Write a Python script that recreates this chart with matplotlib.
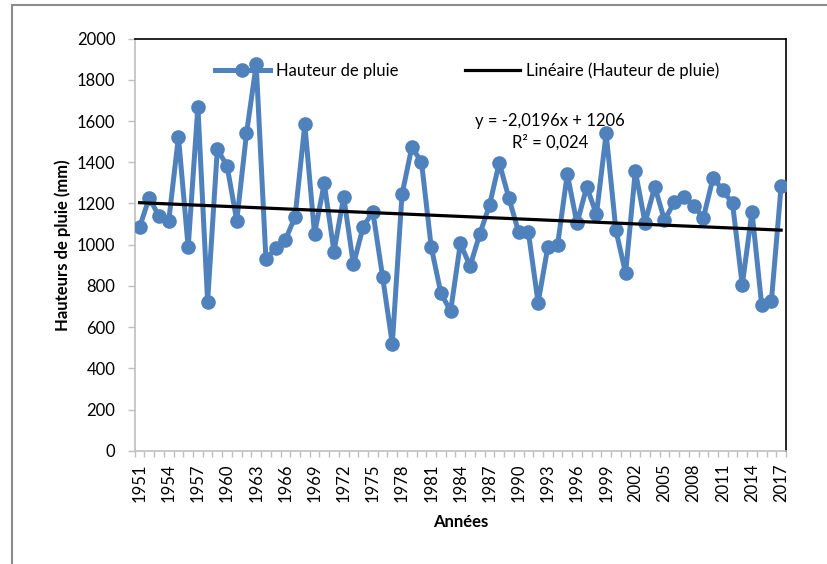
import matplotlib
matplotlib.use("Agg")
import matplotlib.pyplot as plt
from matplotlib.patches import Rectangle
import numpy as np

plt.rcParams['font.family'] = ['Lato', 'DejaVu Sans']

years = list(range(1951, 2018))
rain = [1085, 1228, 1138, 1115, 1524, 987, 1670, 723, 1463, 1383,
        1116, 1540, 1875, 930, 982, 1023, 1136, 1584, 1052, 1298,
        966, 1233, 904, 1087, 1160, 845, 518, 1244, 1472, 1403,
        990, 764, 678, 1006, 896, 1052, 1192, 1398, 1225, 1060,
        1060, 718, 990, 998, 1343, 1103, 1281, 1147, 1540, 1071,
        861, 1358, 1107, 1281, 1120, 1205, 1233, 1189, 1131, 1325,
        1265, 1200, 804, 1160, 707, 728, 1285]
slope = -2.0196
intercept = 1206
yticks = [0, 200, 400, 600, 800, 1000, 1200, 1400, 1600, 1800, 2000]
xlabel_years = years[::3]

W, H = 828, 564
FS = 12
fig = plt.figure(figsize=(W/100, H/100), dpi=100)
ax = fig.add_axes([134.7/W, 1-450.7/H, (786-134.7)/W, (450.7-38.7)/H])

# outer chart border
fig.patches.append(Rectangle((12/W, -0.05), 1.0, 1-5/H+0.05, transform=fig.transFigure,
                             fill=False, edgecolor='#8c8c8c', linewidth=1.5))

idx = np.arange(len(years))
ax.plot(idx, rain, color='#4F81BD', linewidth=3.6, marker='o', markersize=9.5,
        label='Hauteur de pluie', zorder=3, solid_joinstyle='round')
xs = np.arange(1, len(years)+1)
trend = slope*xs + intercept
ax.plot(idx, trend, color='black', linewidth=2.3, label='Linéaire (Hauteur de pluie)', zorder=4)

ax.set_xlim(-0.5, len(years)-0.5)
ax.set_ylim(0, 2000)
ax.set_yticks(yticks)
ax.set_yticklabels([str(v) for v in yticks], fontsize=FS)
ax.set_xticks([years.index(y) for y in xlabel_years])
ax.set_xticklabels([str(y) for y in xlabel_years], rotation=90, fontsize=FS)
ax.set_xticks(np.arange(-0.5, len(years), 1.0), minor=True)
ax.tick_params(axis='x', which='major', length=0, pad=9)
ax.tick_params(axis='x', which='minor', length=4, color='#BFBFBF', width=1)
ax.tick_params(axis='y', length=5, color='#BFBFBF', width=1, pad=9)

for s in ['left', 'bottom']:
    ax.spines[s].set_color('#BFBFBF')
    ax.spines[s].set_linewidth(1.2)
for s in ['top', 'right']:
    ax.spines[s].set_color('black')
    ax.spines[s].set_linewidth(1.2)

ax.set_ylabel('Hauteurs de pluie (mm)', fontsize=FS, fontweight='bold', labelpad=4)
ax.set_xlabel('Années', fontsize=FS, fontweight='bold', labelpad=9)

leg = ax.legend(loc='center', bbox_to_anchor=(0.51, 0.922), ncol=2, frameon=False,
                fontsize=FS, handlelength=3.3, columnspacing=4.0, handletextpad=0.35)

ax.text((550-134.7)/(786-134.7), (450.7-131.5)/412,
        'y = -2,0196x + 1206\nR² = 0,024', transform=ax.transAxes,
        ha='center', va='center', fontsize=FS, linespacing=1.4)

fig.savefig('out.png', dpi=100)
